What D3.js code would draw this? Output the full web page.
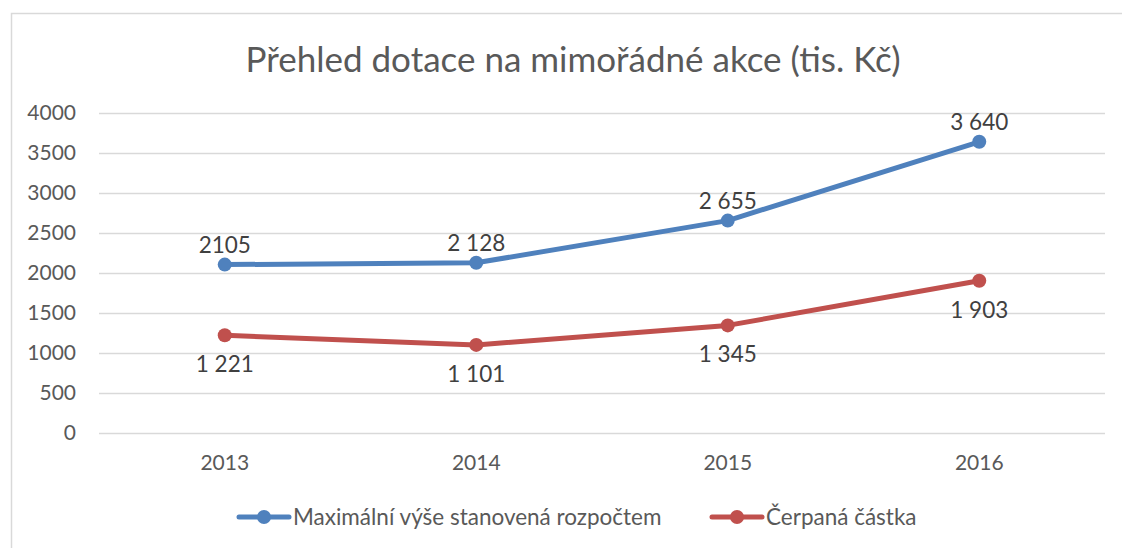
<!DOCTYPE html>
<html>
<head>
<meta charset="utf-8">
<script src="https://cdn.jsdelivr.net/npm/d3@7"></script>
<style>
  html, body { margin: 0; padding: 0; background: #fff; }
  svg { display: block; font-family: Lato, "Open Sans", sans-serif; }
</style>
</head>
<body>
<div id="chart"></div>
<script>
// chart data
var years = ['2013', '2014', '2015', '2016'];
var maxBudget = [2105, 2128, 2655, 3640];
var spent = [1221, 1101, 1345, 1903];
var maxBudgetLabels = ['2105', '2 128', '2 655', '3 640'];
var spentLabels = ['1 221', '1 101', '1 345', '1 903'];
var yTicks = [0, 500, 1000, 1500, 2000, 2500, 3000, 3500, 4000];
var seriesNames = ['Maximální výše stanovená rozpočtem', 'Čerpaná částka'];
var title = 'Přehled dotace na mimořádné akce (tis. Kč)';

var width = 1122, height = 548;
var blue = '#4f81bd', red = '#c0504d';
var textColor = '#595959';
var font = 'Lato, "Open Sans", sans-serif';

var svg = d3.select('#chart').append('svg')
	.attr('width', width)
	.attr('height', height);

// chart frame (cut at right and bottom)
svg.append('rect')
	.attr('x', 11.5).attr('y', 13.5)
	.attr('width', 1130).attr('height', 560)
	.style('fill', 'none')
	.style('stroke', '#d9d9d9')
	.style('stroke-width', 1.5);

var x = d3.scaleBand().domain(years).range([99, 1105]);
var y = d3.scaleLinear().domain([0, 4000]).range([433, 113]);

svg.append('text')
	.attr('x', 573).attr('y', 72)
	.attr('text-anchor', 'middle')
	.style('font-size', '35px')
	.style('fill', textColor)
	.text(title);

// gridlines
svg.append('g').selectAll('line')
	.data(yTicks)
	.join('line')
		.attr('x1', 99).attr('x2', 1105)
		.attr('y1', function(d) { return Math.round(y(d)) + 0.5; })
		.attr('y2', function(d) { return Math.round(y(d)) + 0.5; })
		.style('stroke', '#d9d9d9')
		.style('stroke-width', 1.5);

var yAxis = svg.append('g')
	.attr('transform', 'translate(76,0)')
	.call(d3.axisLeft(y).tickValues(yTicks).tickSize(0).tickPadding(0).tickFormat(d3.format('d')));
yAxis.select('.domain').remove();
yAxis.selectAll('text')
	.style('font-family', font)
	.style('font-size', '21px')
	.style('fill', textColor);

var xAxis = svg.append('g')
	.attr('transform', 'translate(0,455)')
	.call(d3.axisBottom(x).tickSize(0).tickPadding(0));
xAxis.select('.domain').remove();
xAxis.selectAll('text')
	.style('font-family', font)
	.style('font-size', '21px')
	.style('fill', textColor);

var series = [
	{name: seriesNames[0], values: maxBudget, labels: maxBudgetLabels, color: blue, dy: -12},
	{name: seriesNames[1], values: spent, labels: spentLabels, color: red, dy: 37}
];

var line = d3.line()
	.x(function(d, i) { return x(years[i]) + x.bandwidth() / 2; })
	.y(function(d) { return y(d); });

series.forEach(function(s) {
	var g = svg.append('g');
	g.append('path')
		.datum(s.values)
		.attr('d', line)
		.style('fill', 'none')
		.style('stroke', s.color)
		.style('stroke-width', 5)
		.style('stroke-linejoin', 'round')
		.style('stroke-linecap', 'round');
	g.selectAll('circle')
		.data(s.values)
		.join('circle')
			.attr('cx', function(d, i) { return x(years[i]) + x.bandwidth() / 2; })
			.attr('cy', function(d) { return y(d); })
			.attr('r', 7)
			.style('fill', s.color);
	g.selectAll('text')
		.data(s.values)
		.join('text')
			.attr('x', function(d, i) { return x(years[i]) + x.bandwidth() / 2; })
			.attr('y', function(d) { return y(d) + s.dy; })
			.attr('text-anchor', 'middle')
			.style('font-size', '22.5px')
			.style('fill', '#404040')
			.text(function(d, i) { return s.labels[i]; });
});

// legend
var legendX = [237, 710];
series.forEach(function(s, i) {
	var lg = svg.append('g').attr('transform', 'translate(' + legendX[i] + ',517)');
	lg.append('line')
		.attr('x1', 2).attr('x2', 52)
		.style('stroke', s.color)
		.style('stroke-width', 5)
		.style('stroke-linecap', 'round');
	lg.append('circle')
		.attr('cx', 27).attr('r', 7)
		.style('fill', s.color);
	lg.append('text')
		.attr('x', 56).attr('y', 8)
		.style('font-size', '22.5px')
		.style('fill', textColor)
		.text(s.name);
});
</script>
</body>
</html>
